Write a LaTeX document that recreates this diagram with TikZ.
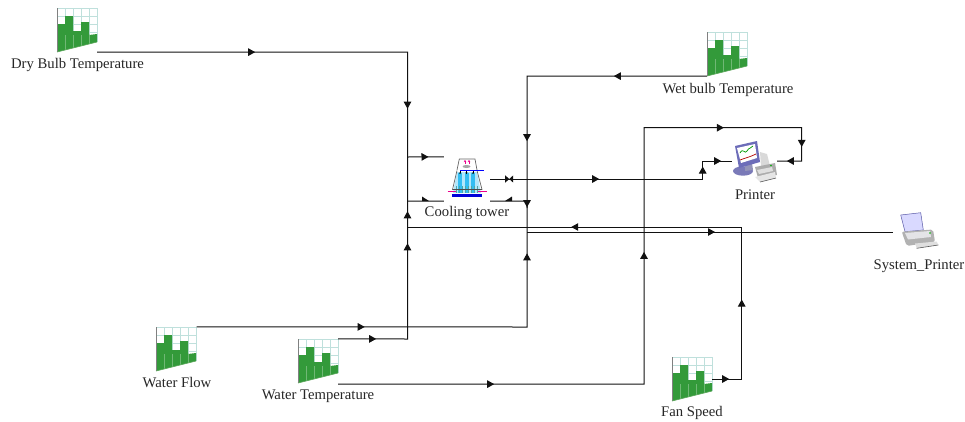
\documentclass[tikz,border=0pt]{standalone}
\usepackage{fontspec}
\setmainfont{Liberation Serif}
\usetikzlibrary{arrows.meta,decorations.markings}
\definecolor{barg}{HTML}{339A3A}
\definecolor{gridc}{HTML}{BFE0DC}
\definecolor{wire}{HTML}{111111}
\tikzset{
  x=1pt,y=-1pt,
  wirestyle/.style={draw=wire,line width=1pt},
  fwd/.style={postaction={decorate,decoration={markings,mark=at position #1pt with {\arrow{Triangle[length=7pt,width=7.5pt]}}}}},
  bowr/.style={postaction={decorate,decoration={markings,mark=at position #1pt with {\arrow{Triangle[length=4pt,width=7pt]}}}}},
  bowl/.style={postaction={decorate,decoration={markings,mark=at position #1pt with {\arrowreversed{Triangle[length=4pt,width=7pt]}}}}},
  lab/.style={font=\fontsize{14.7pt}{16pt}\selectfont,text=black!85,inner sep=0pt},
  chart/.pic={
    \fill[white] (0,0) -- (40,0) -- (40,34) -- (0,44) -- cycle;
    \foreach \xx in {0,8,16,24,32,40} \draw[gridc,line width=0.9pt] (\xx,0) -- (\xx,{44-\xx/4});
    \foreach \yy in {0.5,8,16,24} \draw[gridc,line width=0.9pt] (0,\yy) -- (40,\yy);
    \fill[barg] (0,16) -- (8,16) -- (8,8) -- (16,8) -- (16,23) -- (24,23) -- (24,14) -- (32,14) -- (32,27) -- (40,26) -- (40,34) -- (0,44) -- cycle;
    \foreach \xx in {8,16,24,32} \draw[barg!70!white,line width=0.4pt] (\xx,27) -- (\xx,{44-\xx/4});
    \draw[gray,line width=1pt] (0,0) -- (0,44);
    \draw[gray!70!green,line width=0.7pt] (0,44) -- (40,34);
  },
}
\begin{document}
\begin{tikzpicture}
\useasboundingbox (0,0) rectangle (965,421);
% component boxes
\node[minimum width=40pt,minimum height=44pt,inner sep=0pt] (dry) at (77,30) {};
\node[minimum width=41pt,minimum height=44pt,inner sep=0pt] (wet) at (727.5,54) {};
\node[minimum width=40pt,minimum height=44pt,inner sep=0pt] (wf) at (176.5,349) {};
\node[minimum width=40pt,minimum height=45pt,inner sep=0pt] (wt) at (318,361.5) {};
\node[minimum width=40pt,minimum height=44pt,inner sep=0pt] (fan) at (692,379) {};
\node[minimum width=46pt,minimum height=44pt,inner sep=0pt] (tower) at (467,179) {};
\node[minimum width=45pt,minimum height=44pt,inner sep=0pt] (printer) at (754.5,161) {};
\node[minimum width=50pt,minimum height=30pt,inner sep=0pt] (sys) at (918,232) {};
% chart icons
\pic at (57,8) {chart};
\pic at (707,32) {chart};
\pic at (156,327) {chart};
\pic at (298,339) {chart};
\pic at (672,357) {chart};
% labels
\node[lab] (l1) at (77.5,64.5) {Dry Bulb Temperature};
\node[lab] (l2) at (728,89.5) {Wet bulb Temperature};
\node[lab] (l3) at (177,383) {Water Flow};
\node[lab] (l4) at (318,396.5) {Water Temperature};
\node[lab] (l5) at (692,413) {Fan Speed};
\node[lab] (l6) at (467,213) {Cooling tower};
\node[lab] (l7) at (755,195) {Printer};
\node[lab] (l8) at (919,266.5) {System\_Printer};
% junction coordinates
\coordinate (jl) at (407.5,201);
\coordinate (jr) at (527,201);
% connectors
\path[wirestyle,fwd=158,fwd=367] (dry.south east) -- (407.5,52) -- (jl);
\path[wirestyle,fwd=21] (407.5,157) -- (tower.north west);
\path[wirestyle] (jl) -- (tower.south west);
\path[wirestyle,fwd=38,fwd=165,fwd=197] (wt.north east) -- (407.5,339) -- (jl);
\path[wirestyle,fwd=93,fwd=245,fwd=311] (wet.south west) -- (527,76) -- (527,208);
\path[wirestyle,fwd=168,fwd=404] (wf.north east) -- (527,327) -- (jr);
\path[wirestyle] (tower.south east) -- (jr);
\path[wirestyle,fwd=17,fwd=109,fwd=352] (fan.east) -- (741.7,379) -- (741.7,227) -- (407.5,227);
\path[wirestyle,fwd=188] (527,232) -- (sys.west);
\path[wirestyle,fwd=156,fwd=438,fwd=642,fwd=739,fwd=768] (wt.south east) -- (644,384) -- (644,127.7) -- (801.7,127.7) -- (801.7,161) -- (printer.east);
\path[wirestyle,bowr=19,bowl=19,fwd=109,fwd=225,fwd=249] (tower.east) -- (702.7,179) -- (702.7,161) -- (printer.west);
% half arrowheads at the tower's lower ports
\fill[wire] (422,196.5) -- (429,201) -- (422,201) -- cycle;
\fill[wire] (512,196.5) -- (505,201) -- (512,201) -- cycle;
% cooling tower icon
\begin{scope}
\fill[white] (459.3,159) -- (475,159) -- (477,170) -- (457,170) -- cycle;
\draw[gray!80!black,line width=0.7pt] (457,170) -- (459.3,159) -- (475,159) -- (477,170);
\fill[gray!70] (466.5,166.5) ellipse (4 and 1.5);
\draw[magenta,line width=0.7pt,-{Stealth[length=2pt,width=2.5pt]}] (465,164) -- (465,160);
\draw[magenta,line width=0.7pt,-{Stealth[length=2pt,width=2.5pt]}] (469,164) -- (469,160);
\fill[cyan!30] (457,172) -- (477,172) -- (481,193) -- (453,193) -- cycle;
\foreach \xx in {460,466.5,473} \fill[cyan!80] (\xx-2,173) rectangle (\xx+2,193);
\foreach \xx in {456,459,462,465,468,471,474,477} \draw[teal!70,line width=0.25pt] (\xx,186) -- (\xx,193);
\foreach \xx in {460,466.5,473} \draw[black,line width=0.5pt,-{Stealth[length=1.5pt,width=2pt]}] (\xx,171) -- (\xx,174);
\draw[gray!80!black,line width=0.7pt] (457,170.5) -- (452.5,189.5) -- (482,189.5) -- (477,170.5);
\draw[black!70,line width=0.5pt] (453,189) -- (481.5,189);
\draw[blue,line width=0.9pt] (460,170.3) -- (484,170.3);
\draw[magenta,line width=0.8pt] (447.7,191) -- (456,191);
\draw[magenta,line width=0.8pt] (478.3,191) -- (486.7,191);
\fill[blue!85!black] (452.3,193.5) rectangle (481.7,197.3);
\end{scope}
% desktop printer icon
\begin{scope}
\fill[blue!30!gray!80] (743,171) ellipse (10 and 4.7);
\fill[blue!20!gray!70] (745,165) -- (752,163) -- (753,170) -- (745,171) -- cycle;
\fill[blue!35!gray!85] (735,146) -- (757,141) -- (760,162) -- (739,168) -- cycle;
\fill[white] (737,148) -- (755,144) -- (757,158) -- (741,163) -- cycle;
\draw[green!60!black,line width=0.7pt] (740,153) .. controls (743,147) and (745,155) .. (747,151) .. controls (749,147) and (751,149) .. (753,146);
\draw[red!70!black,line width=0.7pt] (740,160) .. controls (745,158) and (750,157) .. (756,154);
\fill[gray!30] (760,152) -- (767,154) -- (770,166) -- (761,167) -- cycle;
\fill[gray!65] (755,167) -- (775,163) -- (777,175) -- (758,178) -- cycle;
\fill[gray!25] (757,170) -- (772,167) -- (773,171) -- (759,174) -- cycle;
\fill[gray!20] (755,177) -- (775,172) -- (776,178) -- (760,182) -- cycle;
\draw[gray!70!black,line width=0.6pt] (760,182) -- (776,178);
\fill[green!70!black] (771,165.5) circle (0.8);
\end{scope}
% system printer icon
\begin{scope}
\fill[blue!15] (900.7,215) -- (920.7,212.7) -- (923.3,230) -- (905,231.7) -- cycle;
\draw[gray!70!blue,line width=0.5pt] (900.7,215) -- (920.7,212.7) -- (923.3,230) -- (905,231.7) -- cycle;
\fill[gray!60,rounded corners=2pt] (901.7,231.7) -- (933,229.5) -- (935,241.7) -- (906.7,246) -- cycle;
\fill[blue!6!gray!20] (905,233) -- (930,231) -- (931,237) -- (908,239.5) -- cycle;
\fill[gray!25] (915,243.5) -- (936.7,241.5) -- (938.3,245) -- (916.7,248.3) -- cycle;
\draw[gray!70!black,line width=0.6pt] (916.7,248.3) -- (938.3,245);
\fill[green!70!black] (930,233) circle (0.9);
\end{scope}
\end{tikzpicture}
\end{document}
